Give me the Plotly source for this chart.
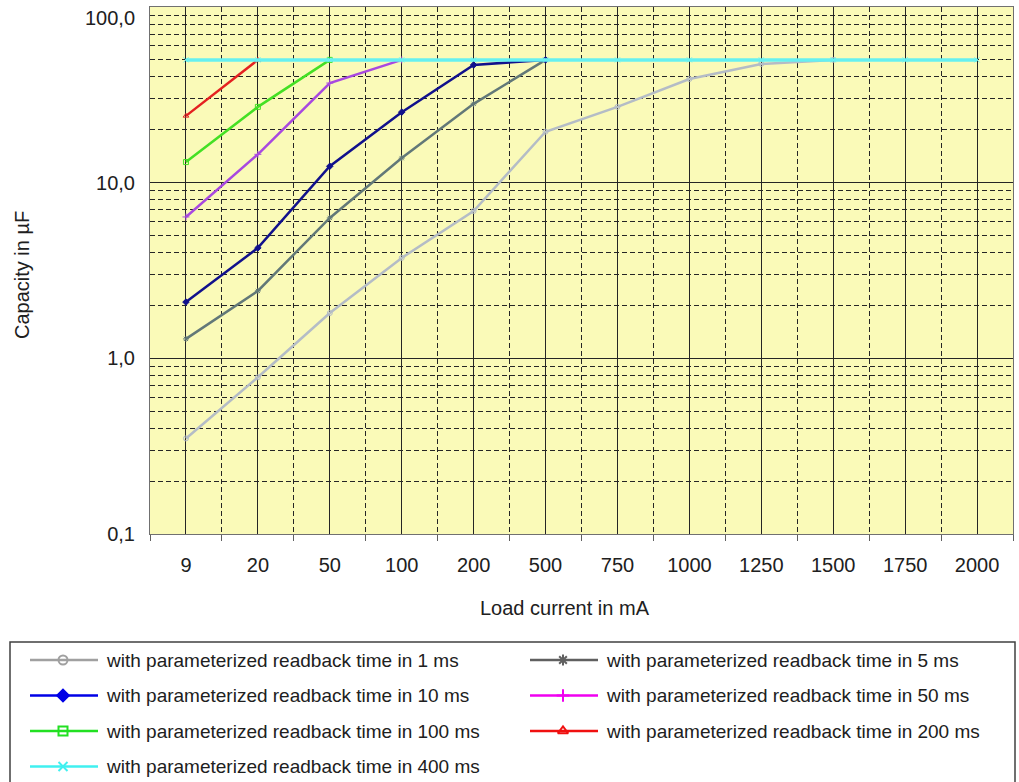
import plotly.graph_objects as go

# x categories (load current in mA)
categories = ['9', '20', '50', '100', '200', '500', '750', '1000', '1250', '1500', '1750', '2000']

# capacity in uF per readback time
cap_1ms = [0.35, 0.78, 1.81, 3.73, 6.9, 19.5, 27, 38.9, 47.4, 50]
cap_5ms = [1.29, 2.42, 6.3, 13.8, 28.1, 50]
cap_10ms = [2.09, 4.25, 12.4, 25.2, 46.8, 50]
cap_50ms = [6.38, 14.5, 36.9, 50]
cap_100ms = [13.1, 27, 50]
cap_200ms = [24, 50]
cap_400ms = [50, 50, 50, 50, 50, 50, 50, 50, 50, 50, 50, 50]

series_names = [
    'with parameterized readback time in 1 ms',
    'with parameterized readback time in 5 ms',
    'with parameterized readback time in 10 ms',
    'with parameterized readback time in 50 ms',
    'with parameterized readback time in 100 ms',
    'with parameterized readback time in 200 ms',
    'with parameterized readback time in 400 ms',
]
series_values = [cap_1ms, cap_5ms, cap_10ms, cap_50ms, cap_100ms, cap_200ms, cap_400ms]

y_tickvals = [0.1, 1, 10, 100]
y_ticktext = ['0,1', '1,0', '10,0', '']  # top label drawn inside, see annotation below

# styling
chart_colors = ['#B4BCC6', '#627878', '#10108C', '#A848E0', '#44E024', '#E42020', '#66F0F0']
legend_colors = ['#A0A0A0', '#606060', '#0000E6', '#F000F0', '#22E022', '#F01010', '#40F0F0']
symbols = ['circle-open', 'asterisk-open', 'diamond', 'cross-thin-open',
           'square-open', 'triangle-up-open', 'x-thin-open']
line_widths = [2.5, 2.5, 2.5, 2.5, 2.5, 2.5, 3.5]

W, H = 1019, 782
PLOT_L, PLOT_R, PLOT_T, PLOT_B = 150, 1013, 7, 534
FONT = 'Liberation Sans, Arial, sans-serif'
TXT = '#202020'
GRID = '#252525'

fig = go.Figure()

for name, vals, col, sym, lw in zip(series_names, series_values, chart_colors, symbols, line_widths):
    xs = [categories.index(c) for c in categories[:len(vals)]]
    fig.add_trace(go.Scatter(
        x=xs, y=vals, mode='lines+markers', name=name,
        line=dict(color=col, width=lw),
        marker=dict(symbol=sym, size=5, color=col, line=dict(color=col, width=1)),
        showlegend=False, xaxis='x', yaxis='y',
    ))

# hand-made legend on a pixel overlay axis
for i, (name, col, sym) in enumerate(zip(series_names, legend_colors, symbols)):
    col_i, row_i = i % 2, i // 2
    x0 = 30 + col_i * 500
    yy = 660 + row_i * 35.5
    fig.add_trace(go.Scatter(
        x=[x0, x0 + 68], y=[yy, yy], mode='lines',
        line=dict(color=col, width=2.5), showlegend=False,
        xaxis='x2', yaxis='y2', hoverinfo='skip',
    ))
    fig.add_trace(go.Scatter(
        x=[x0 + 33], y=[yy], mode='markers',
        marker=dict(symbol=sym, size=9, color=col, line=dict(color=col, width=2)),
        showlegend=False, xaxis='x2', yaxis='y2', hoverinfo='skip',
    ))
    fig.add_annotation(
        x=x0 + 74, y=yy, xref='x2', yref='y2', text=name, showarrow=False,
        xanchor='left', yanchor='middle', font=dict(family=FONT, size=19, color=TXT),
    )

# legend frame
fig.add_shape(type='rect', xref='x2', yref='y2', x0=10, x1=1015, y0=642, y1=820,
              line=dict(color='#404040', width=1.5), fillcolor='rgba(0,0,0,0)')

# plot background
fig.add_shape(type='rect', xref='x domain', yref='y domain', x0=0, x1=1, y0=0, y1=1,
              fillcolor='#FAFAB8', line=dict(width=0), layer='below')

# top y label sits just inside the figure
fig.add_annotation(x=137, y=18, xref='x2', yref='y2', text='100,0', showarrow=False,
                   xanchor='right', yanchor='middle', font=dict(family=FONT, size=20, color=TXT))

# axis titles
fig.add_annotation(x=22, y=275, xref='x2', yref='y2', text='Capacity in µF', textangle=-90,
                   showarrow=False, font=dict(family=FONT, size=20, color=TXT))
fig.add_annotation(x=565, y=608, xref='x2', yref='y2', text='Load current in mA',
                   showarrow=False, font=dict(family=FONT, size=20, color=TXT))

fig.update_layout(
    width=W, height=H, autosize=False,
    margin=dict(l=0, r=0, t=0, b=0),
    paper_bgcolor='white',
    plot_bgcolor='rgba(0,0,0,0)',
    showlegend=False,
    xaxis=dict(
        domain=[PLOT_L / W, PLOT_R / W],
        range=[-0.5, len(categories) - 0.5],
        tickvals=list(range(len(categories))), ticktext=categories,
        ticks='', showgrid=True, gridcolor=GRID, gridwidth=1.3,
        zeroline=False, showline=True, mirror=True, linecolor='#707070', linewidth=1,
        tickfont=dict(family=FONT, size=20, color=TXT),
        ticklabelstandoff=13, automargin=False,
        minor=dict(tickvals=[i - 0.5 for i in range(len(categories) + 1)],
                   ticks='outside', ticklen=6, tickcolor='#606060',
                   showgrid=True, gridcolor=GRID, griddash='5px,3px', gridwidth=1.2),
        fixedrange=True, anchor='y',
    ),
    yaxis=dict(
        domain=[(H - PLOT_B) / H, (H - PLOT_T) / H],
        type='log', range=[-1, 2],
        tickvals=y_tickvals, ticktext=y_ticktext,
        ticks='', showgrid=True, gridcolor=GRID, gridwidth=1.3,
        zeroline=False, showline=True, mirror=True, linecolor='#707070', linewidth=1,
        tickfont=dict(family=FONT, size=20, color=TXT),
        ticklabelstandoff=10, automargin=False,
        minor=dict(tickvals=[m * 10 ** k for k in (-1, 0, 1) for m in range(2, 10)],
                   showgrid=True, gridcolor=GRID, griddash='5px,3px', gridwidth=1.2),
        fixedrange=True, anchor='x',
    ),
    xaxis2=dict(domain=[0, 1], range=[0, W], visible=False, anchor='y2', fixedrange=True,
                automargin=False),
    yaxis2=dict(domain=[0, 1], range=[H, 0], visible=False, anchor='x2', fixedrange=True,
                automargin=False),
)

fig.write_html(
    "out.html",
    config={'displayModeBar': False, 'responsive': False},
    post_script=("document.body.style.margin='0';"
                 "document.body.style.overflow='hidden';"
                 "document.documentElement.style.overflow='hidden';"),
)
